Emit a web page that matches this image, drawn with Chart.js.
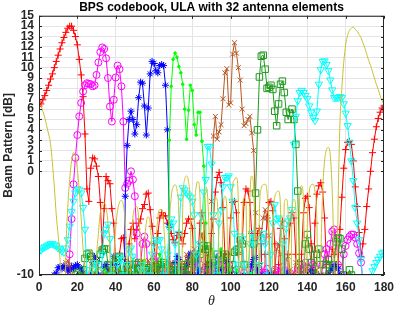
<!DOCTYPE html>
<html>
<head>
<meta charset="utf-8">
<script src="https://cdn.jsdelivr.net/npm/chart.js@4.4.0/dist/chart.umd.min.js"></script>
<style>
  html, body { margin: 0; padding: 0; background: #ffffff; }
  #beamChart { display: block; }
</style>
</head>
<body>
<canvas id="beamChart" width="399" height="310"></canvas>
<script>
// Angle grid (degrees), one sample per degree
const theta = Array.from({ length: 181 }, (_, i) => i);

const xTicks = [0, 20, 40, 60, 80, 100, 120, 140, 160, 180];
const yTicks = [-10, 0, 1, 2, 3, 4, 5, 6, 7, 8, 9, 10, 11, 12, 13, 14, 15];

// Beam pattern [dB] per codeword (-20 = deep null, off the axis)
const beam1 = [
  6.3, 6.5, 6.9, 7.3, 7.8, 8.3, 8.9, 9.4, 10.0, 10.6,
  11.2, 11.8, 12.4, 12.9, 13.4, 13.8, 14.0, 14.0, 13.6, 13.0,
  12.2, 10.8, 9.3, 7.2, 3.6, -1.7, -2.9, 0.3, 1.3, 1.2,
  0.5, -0.5, -3.0, -7.5, -3.6, -0.5, -0.9, -1.2, -3.6, -5.0,
  -9.0, -20, -8.0, -6.5, -6.4, -8.5, -12, -7.0, -5.6, -5.0,
  -6.5, -5.6, -5.0, -4.6, -3.6, -3.2, -2.2, -2.1, -3.7, -5.3,
  -7.0, -9.0, -6.0, -4.5, -4.0, -4.3, -4.3, -5.0, -5.4, -6.0,
  -6.6, -6.9, -6.2, -5.9, -6.4, -7.0, -6.0, -5.0, -4.6, -4.6,
  -5.5, -9.0, -20, -8.0, -5.0, -4.0, -5.0, -9.0, -20, -9.0,
  -6.0, -4.6, -2.0, -0.6, -0.1, -1.1, -3.5, -8.0, -20, -8.0,
  -4.5, -3.0, -2.9, -4.0, -8.0, -20, -7.0, -3.0, -1.7, -1.9,
  -3.0, -6.0, -20, -9.0, -6.0, -5.5, -7.0, -20, -8.0, -4.5,
  -3.0, -2.9, -3.8, -7.0, -20, -9.0, -5.5, -4.8, -6.5, -20,
  -8.0, -5.0, -4.0, -4.5, -8.0, -20, -20, -8.0, -4.0, -2.6,
  -2.4, -3.5, -7.0, -12, -5.0, -2.2, -1.4, -1.1, -2.0, -4.5,
  -9.0, -20, -10, -7.5, -8.0, -12, -9.0, -5.6, -2.5, 0.3,
  2.1, 2.8, 2.9, 2.6, 1.0, -1.5, -3.4, -5.9, -8.2, -7.0,
  -5.6, -3.4, -1.7, 0.0, 1.8, 3.1, 4.3, 5.1, 5.7, 6.1, 6.3
];
const beam2 = [
  -20, -14, -12, -11.5, -12, -14, -20, -14, -12, -11,
  -11, -12, -15, -20, -13, -11, -8.0, -4.6, -1.25, 1.3,
  3.5, 5.3, 6.6, 7.7, 8.3, 8.5, 8.45, 8.4, 8.2, 8.3,
  9.3, 10.5, 11.5, 11.95, 11.8, 10.9, 9.0, 6.25, 4.8, 6.9,
  9.05, 10.2, 9.85, 8.2, 4.8, -1.6, -1.2, -0.9, 0.0, -0.8,
  -2.4, -6.0, -20, -9.0, -7.0, -6.3, -7.0, -10, -20, -10,
  -8.5, -8.2, -9.0, -20, -11, -9.5, -10, -15, -20, -12,
  -10, -9.5, -11, -20, -11, -9.5, -9.2, -10, -20, -10,
  -9.0, -8.8, -9.5, -8.5, -9.0, -20, -10, -9.2, -9.5, -20,
  -9.5, -8.8, -9.3, -20, -8.2, -8.5, -12, -20, -9.5, -9.0,
  -11, -20, -10, -9.5, -12, -20, -10.5, -9.8, -10.5, -20,
  -9.5, -9.0, -11, -20, -10.5, -9.6, -10, -20, -9.8, -9.4,
  -10.5, -20, -10, -9.5, -9.8, -20, -9.8, -9.2, -9.6, -20,
  -10.5, -9.8, -10.2, -20, -10, -9.3, -9.5, -20, -9.5, -8.8,
  -9.3, -20, -10, -9.0, -9.2, -10.5, -20, -11, -9.0, -8.0,
  -7.5, -8.5, -7.0, -5.8, -5.6, -6.5, -9.0, -20, -10, -8.0,
  -7.2, -6.6, -6.3, -6.1, -6.1, -6.4, -7.0, -7.9, -8.8, -10.5,
  -20, -14, -12.5, -12, -12, -13, -15, -20, -14, -12, -12
];
const beam3 = [
  -20, -14, -12, -11, -12, -15, -20, -12, -10, -9.8,
  -9.3, -9.2, -9.4, -9.1, -9.3, -9.6, -9.5, -9.2, -9.4, -9.1,
  -9.0, -9.3, -9.4, -9.8, -10.5, -20, -12, -10, -8.8, -8.2,
  -8.6, -10, -20, -10, -9.2, -9.0, -9.5, -11, -9.0, -8.2,
  -9.0, -12, -20, -12, -20, -2.4, 2.5, 5.0, 5.8, 5.0,
  3.6, 4.5, 7.1, 8.6, 8.5, 6.3, 3.5, 6.1, 9.4, 10.6,
  10.4, 9.7, 9.5, 10.2, 10.3, 10.2, 8.3, 4.0, -5.1, -20,
  -11, -8.8, -8.2, -8.5, -9.5, -20, -10, -9.0, -8.3, -7.9,
  -8.8, -20, -10.5, -9.8, -9.5, -10.5, -20, -10, -9.2, -8.8,
  -9.0, -12, -20, -10, -9.4, -9.5, -11, -20, -8.7, -9.8,
  -10.4, -20, -11, -10, -10.5, -20, -11, -10, -10.5, -20,
  -10, -9.0, -8.5, -8.3, -9.5, -20, -11, -10, -10.5, -20,
  -10.5, -9.8, -10.3, -20, -11, -10.2, -10.6, -20, -10.5, -9.8,
  -9.8, -11, -20, -11, -10.4, -11, -20, -11, -10.1, -10.4,
  -20, -10.5, -9.5, -9.8, -11, -20, -11, -10, -10.3, -20,
  -11, -10, -9.6, -9.3, -9.0, -9.2, -9.4, -10, -11, -20,
  -13, -12, -12.5, -14, -20, -14, -12.5, -12, -13, -16,
  -20, -15, -13, -12.5, -13, -15, -20, -15, -13, -13, -13
];
const beam4 = [
  -20, -16, -14, -13, -14, -16, -20, -15, -13, -12,
  -12.5, -14, -20, -13, -11.5, -11, -12, -20, -12, -10.5,
  -10, -10.5, -12, -20, -11, -10, -10.3, -20, -11, -9.8,
  -9.5, -10.2, -20, -10.5, -9.5, -9.8, -20, -10, -9.3, -9.6,
  -20, -10.2, -9.4, -10, -20, -10.5, -9.6, -9.8, -20, -10,
  -9.2, -9.5, -20, -10, -9.0, -8.6, -9.2, -20, -9.5, -8.4,
  -8.8, -20, -9.0, -8.0, -8.5, -20, -9.0, -20, 3.0, 8.2,
  10.8, 11.4, 11.0, 10.1, 9.5, 8.4, 6.0, 3.1, 5.9, 8.3,
  7.8, 4.5, 3.5, 5.7, 5.7, 2.9, 0.5, -5.0, -20, -9.0,
  -7.5, -8.0, -12, -20, -9.0, -7.5, -8.5, -20, -10, -9.0,
  -9.5, -20, -10.5, -9.5, -10, -20, -11, -10, -10.5, -20,
  -10.5, -9.8, -10.2, -20, -11, -10.2, -10.6, -20, -11, -10.4,
  -10.8, -20, -12, -10.6, -11, -20, -12, -11, -11.5, -20,
  -12, -11.2, -11.6, -20, -12.5, -11.5, -12, -20, -13, -12,
  -12.5, -20, -13, -12.2, -12.8, -20, -14, -13, -13.5, -20,
  -14, -13.5, -14, -20, -15, -14, -14.5, -20, -16, -15,
  -15.5, -20, -17, -16, -16.5, -20, -18, -17, -17.5, -20,
  -18, -17.5, -18, -20, -19, -18.5, -19, -20, -20, -19.5, -20
];
const beam5 = [
  -20, -15, -13, -12, -12.5, -14, -20, -13, -11.5, -11,
  -10.5, -11, -12, -20, -8.8, -8.6, -9.0, -11, -20, -12,
  -11, -10.5, -11, -20, -11, -10.2, -10.5, -20, -10.5, -9.8,
  -10.2, -20, -10.5, -9.7, -10, -20, -10.2, -9.5, -9.8, -20,
  -10, -9.4, -9.8, -20, -10, -9.0, -9.5, -20, -9.5, -8.5,
  -9.2, -20, -9.8, -8.8, -9.3, -20, -9.5, -8.6, -9.0, -20,
  -9.5, -9.0, -9.6, -20, -9.8, -9.0, -9.4, -20, -9.6, -8.8,
  -9.2, -20, -9.2, -8.5, -9.0, -20, -8.8, -8.0, -8.8, -20,
  -8.5, -7.5, -8.2, -20, -7.0, -6.0, -7.5, -20, -8.0, -20,
  -2.9, 3.4, 5.3, 3.1, 3.8, 4.5, 7.0, 9.5, 9.9, 6.4,
  6.6, 11.3, 12.4, 11.4, 10.0, 8.8, 6.0, 4.4, 4.6, 5.0,
  5.3, 3.7, 2.0, -4.0, -20, -9.0, -6.0, -4.5, -3.7, -4.5,
  -6.2, -10, -20, -9.5, -7.5, -7.0, -8.0, -20, -10, -8.5,
  -8.2, -9.5, -20, -10, -8.8, -8.6, -10, -20, -10.5, -9.4,
  -9.2, -10.5, -20, -10.8, -9.6, -9.5, -11, -20, -11, -10,
  -10, -11.5, -20, -12, -10.8, -10.8, -12, -20, -13, -12,
  -12, -13, -20, -14, -13, -13.5, -20, -15, -14, -14.5,
  -20, -16, -15, -15.5, -20, -17, -16, -16.5, -20, -18, -18
];
const beam6 = [
  -20, -16, -14, -13, -13.5, -15, -20, -14, -12.5, -12,
  -12, -13, -20, -12, -10.8, -10.5, -11, -20, -11, -10,
  -9.8, -10.2, -20, -9.5, -8.4, -8.0, -7.9, -8.2, -12, -20,
  -11, -9.0, -8.0, -7.6, -7.5, -7.5, -9.0, -20, -10, -9.0,
  -8.5, -8.3, -8.2, -10, -20, -10, -9.2, -9.0, -9.5, -20,
  -10, -9.0, -8.8, -9.4, -20, -10.5, -9.5, -9.3, -10, -20,
  -10, -9.2, -9.0, -9.5, -20, -8.8, -9.0, -11, -20, -10,
  -9.5, -9.2, -9.8, -20, -10, -9.3, -9.0, -10, -20, -9.5,
  -8.5, -8.3, -9.0, -20, -8.0, -7.5, -7.2, -7.5, -7.2, -9.0,
  -20, -10, -8.5, -8.0, -9.0, -20, -9.0, -8.0, -8.2, -10,
  -20, -9.0, -7.8, -7.6, -7.5, -6.6, -7.0, -9.0, -20, -11,
  -20, -12, -7.0, -2.1, 4.0, 9.1, 11.1, 11.2, 9.85, 8.0,
  8.1, 8.3, 7.9, 5.8, 4.4, 6.5, 8.4, 8.7, 7.6, 5.7,
  5.0, 5.6, 6.0, 5.0, 2.6, -1.9, -9.0, -20, -10, -7.0,
  -6.1, -7.5, -8.8, -20, -10, -8.0, -7.5, -9.0, -20, -11,
  -9.0, -8.5, -10, -20, -9.0, -6.8, -6.4, -6.5, -7.5, -10,
  -20, -11, -9.5, -10, -20, -12, -10.5, -11, -20, -13,
  -12, -12.5, -20, -14, -13, -13.5, -20, -15, -14, -14.5, -15
];
const beam7 = [
  -7.7, -7.6, -7.4, -7.3, -7.2, -7.1, -7.0, -7.0, -7.1, -7.2,
  -7.4, -7.5, -7.7, -7.8, -7.4, -6.6, -5.3, -3.9, -2.9, -2.1,
  -1.7, -1.8, -2.1, -3.5, -5.6, -9.5, -20, -12, -9.5, -8.8,
  -9.0, -11, -20, -8.0, -6.0, -5.6, -5.1, -6.5, -10, -20,
  -11, -9.0, -8.2, -8.5, -10, -20, -9.0, -7.6, -7.4, -8.2,
  -12, -20, -11, -9.5, -9.0, -9.5, -14, -20, -10, -8.0,
  -7.0, -6.6, -6.6, -6.6, -7.5, -10, -20, -8.0, -5.5, -4.6,
  -5.0, -7.0, -20, -6.0, -2.5, -1.6, -1.8, -2.1, -2.3, -2.5,
  -2.9, -4.2, -8.0, -20, -7.0, -4.3, -2.0, -0.8, 2.4, 2.4,
  0.7, -4.2, -20, -10, -5.0, -3.8, -1.5, -0.6, -0.6, -0.45,
  -1.5, -2.9, -6.0, -20, -9.0, -6.25, -6.5, -9.0, -20, -10,
  -7.0, -6.0, -7.0, -12, -20, -9.0, -6.5, -6.0, -7.0, -10,
  -20, -8.0, -5.0, -3.2, -4.6, -4.5, -5.0, -7.0, -20, -5.5,
  -4.8, -4.5, -3.7, 2.6, 5.3, 6.8, 7.6, 7.8, 7.6, 7.3,
  7.0, 6.3, 5.7, 5.2, 4.9, 5.8, 8.4, 9.8, 10.6, 10.65,
  10.3, 9.7, 8.8, 7.85, 7.1, 7.1, 7.1, 7.2, 7.1, 6.5,
  5.6, 4.4, 2.8, 1.0, -0.9, -3.5, -5.0, -6.6, -8.5, -10.5,
  -20, -14, -11.5, -10.2, -9.6, -9.2, -8.8, -8.5, -8.2, -7.9, -7.8
];
const beam8 = [
  6.5, 6.3, 5.8, 5.2, 4.4, 3.6, 2.7, 0.8, -1.5, -4.2,
  -6.2, -8.5, -12, -20, -8.0, -3.5, -0.8, 1.0, 1.8, 1.5,
  0.2, -1.8, -4.5, -7.5, -9.5, -20, -12, -8.0, -9.0, -20,
  -9.0, -6.0, -4.0, -3.2, -3.0, -3.5, -5.0, -8.0, -20, -9.0,
  -5.5, -3.8, -3.0, -2.8, -3.2, -5.0, -9.0, -20, -8.0, -4.5,
  -3.5, -3.4, -4.5, -8.0, -20, -8.0, -5.0, -4.4, -5.0, -9.0,
  -20, -8.0, -4.5, -3.7, -3.7, -5.0, -9.0, -20, -6.0, -2.5,
  -1.5, -1.3, -1.8, -4.5, -20, -3.5, -0.8, -0.45, -1.0, -4.0,
  -20, -5.0, -1.5, -1.0, -2.5, -20, -4.0, -1.5, -2.5, -8.0,
  -20, -5.0, -2.5, -2.8, -9.0, -20, -4.0, -2.4, -3.5, -20,
  -6.0, -1.5, -0.8, -0.6, -3.0, -20, -5.0, -2.5, -3.0, -20,
  -3.0, -0.45, -1.7, -9.0, -20, -4.0, -1.6, -1.3, -1.25, -2.0,
  -6.0, -20, -5.0, -2.5, -2.0, -1.9, -3.5, -20, -3.0, -2.7,
  -4.0, -20, -4.0, -2.7, -3.5, -20, -2.5, -1.4, -3.0, -20,
  -5.0, -2.0, -1.3, -1.25, -2.0, -5.0, -20, -9.0, -2.0, 1.0,
  2.1, 2.3, 1.5, -2.0, -9.0, -20, -4.0, 4.5, 8.0, 10.5,
  12.2, 13.1, 13.6, 13.8, 13.9, 13.7, 13.5, 13.2, 12.9, 12.4,
  11.9, 11.3, 10.7, 10.2, 9.6, 9.0, 8.4, 7.9, 7.3, 6.8, 6.5
];

const seriesValues = [beam1, beam2, beam3, beam4, beam5, beam6, beam7, beam8];
const seriesColors = ['#ff0000', '#ff00ff', '#0000ff', '#00ff00', '#b5561f', '#1f9a1f', '#00ffff', '#c9c131'];
const seriesMarkers = ['cross', 'circle', 'star', 'circle', 'crossRot', 'rect', 'triangle', false];

function makeDataset(values, idx) {
  const color = seriesColors[idx];
  const marker = seriesMarkers[idx];
  let radius = 3.5;
  if (marker === 'rect') radius = 4.6;
  if (marker === 'triangle') radius = 4.2;
  if (idx === 3) radius = 1.3; // dot marker
  return {
    label: 'beam ' + (idx + 1),
    data: values.map((v, i) => ({ x: theta[i], y: v })),
    borderColor: color,
    borderWidth: 1,
    backgroundColor: color,
    pointStyle: marker,
    pointRadius: marker ? radius : 0,
    pointBorderWidth: 1,
    pointBorderColor: color,
    pointBackgroundColor: idx === 3 ? color : 'rgba(0,0,0,0)',
    pointRotation: marker === 'triangle' ? 180 : 0,
    cubicInterpolationMode: marker ? 'default' : 'monotone',
    tension: 0,
    order: 7 - idx
  };
}

// Matlab style box with inward ticks
const boxPlugin = {
  id: 'boxPlugin',
  afterDraw(chart) {
    const { ctx, chartArea: a, scales } = chart;
    ctx.save();
    ctx.strokeStyle = '#262626';
    ctx.lineWidth = 1;
    ctx.strokeRect(a.left + 0.5, a.top + 0.5, a.right - a.left - 1, a.bottom - a.top - 1);
    ctx.beginPath();
    xTicks.forEach(v => {
      const px = Math.round(scales.x.getPixelForValue(v)) + 0.5;
      ctx.moveTo(px, a.bottom); ctx.lineTo(px, a.bottom - 3);
      ctx.moveTo(px, a.top); ctx.lineTo(px, a.top + 3);
    });
    yTicks.forEach(v => {
      const py = Math.round(scales.y.getPixelForValue(v)) + 0.5;
      ctx.moveTo(a.left, py); ctx.lineTo(a.left + 3, py);
      ctx.moveTo(a.right, py); ctx.lineTo(a.right - 3, py);
    });
    ctx.stroke();
    ctx.restore();
  }
};

const tickFont = { family: '"Liberation Sans", Arial, sans-serif', size: 12, weight: 'bold' };

new Chart(document.getElementById('beamChart').getContext('2d'), {
  type: 'line',
  data: { datasets: seriesValues.map(makeDataset) },
  options: {
    responsive: false,
    maintainAspectRatio: false,
    devicePixelRatio: 1,
    animation: false,
    layout: { padding: { right: 12, top: 0, bottom: 0, left: 0 } },
    plugins: {
      legend: { display: false },
      tooltip: { enabled: false },
      title: {
        display: true,
        fullSize: false, // centre over the plot box, like the original
        text: 'BPS codebook, ULA with 32 antenna elements',
        color: '#000000',
        font: { family: '"Liberation Sans", Arial, sans-serif', size: 12, weight: 'bold', lineHeight: 1.15 },
        padding: { top: 1, bottom: 1 }
      }
    },
    scales: {
      x: {
        type: 'linear',
        min: 0,
        max: 180,
        afterBuildTicks: s => { s.ticks = xTicks.map(v => ({ value: v })); },
        afterFit: s => { s.height = 35; },
        grid: { color: '#e4e4e4', drawTicks: false },
        border: { display: false },
        ticks: { font: tickFont, color: '#262626', padding: 5, maxRotation: 0, autoSkip: false },
        title: {
          display: true,
          text: 'θ',
          color: '#262626',
          font: { family: '"Liberation Serif", serif', size: 14, style: 'italic' },
          padding: { top: 0, bottom: 0 }
        }
      },
      y: {
        type: 'linear',
        min: -10,
        max: 15,
        afterBuildTicks: s => { s.ticks = yTicks.map(v => ({ value: v })); },
        afterFit: s => { s.width = 39; },
        grid: { color: '#e4e4e4', drawTicks: false },
        border: { display: false },
        ticks: { font: tickFont, color: '#262626', padding: 5, autoSkip: false },
        title: {
          display: true,
          text: 'Beam Pattern [dB]',
          color: '#262626',
          font: { family: '"Liberation Sans", Arial, sans-serif', size: 12, weight: 'bold' },
          padding: { top: 1, bottom: 0 }
        }
      }
    }
  },
  plugins: [boxPlugin]
});
</script>
</body>
</html>
